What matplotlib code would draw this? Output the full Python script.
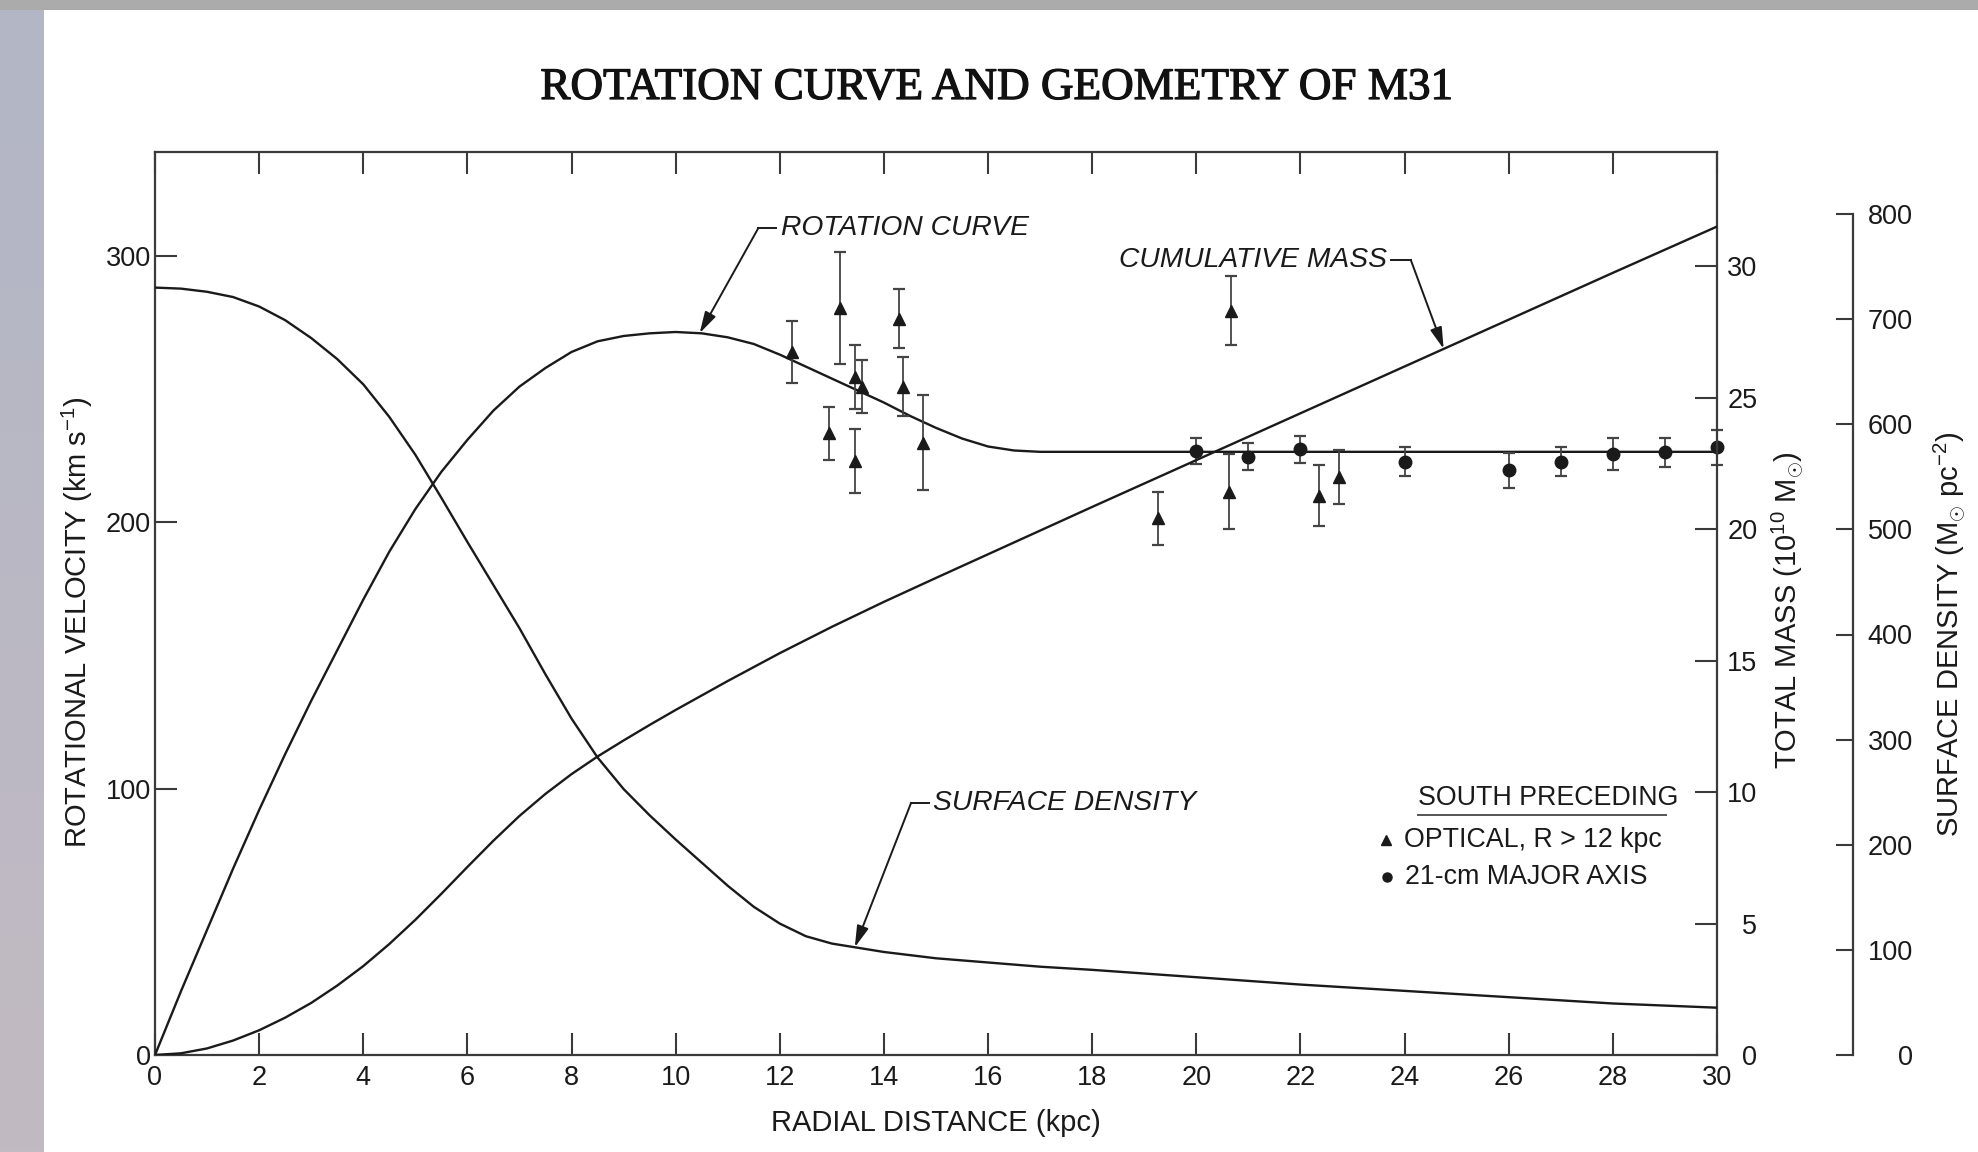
import numpy as np
import matplotlib
matplotlib.use('Agg')
import matplotlib.pyplot as plt
from matplotlib import font_manager as fm
from matplotlib.lines import Line2D
import matplotlib.patheffects as pe

# ---------------- data ----------------
rot_r = [0, 0.5, 1, 1.5, 2, 2.5, 3, 3.5, 4, 4.5, 5, 5.5, 6, 6.5, 7, 7.5, 8, 8.5, 9, 9.5,
         10, 10.5, 11, 11.5, 12, 12.5, 13, 13.5, 14, 14.5, 15, 15.5, 16, 16.5, 17, 20, 25, 30]
rot_v = [0, 24, 47, 70, 92, 113, 133, 152, 171, 189, 205, 219, 231, 242, 251, 258, 264, 268, 270, 271,
         271.5, 271, 269.5, 267, 263, 258.5, 254, 249.5, 245, 240, 235.5, 231.5, 228.5, 227, 226.5, 226.5, 226.5, 226.5]

sd_r = [0, 0.5, 1, 1.5, 2, 2.5, 3, 3.5, 4, 4.5, 5, 5.5, 6, 6.5, 7, 7.5, 8, 8.5, 9, 9.5,
        10, 10.5, 11, 11.5, 12, 12.5, 13, 13.5, 14, 15, 16, 17, 18, 20, 22, 24, 26, 28, 30]
sd_val = [730, 729, 726, 721, 712, 699, 682, 662, 638, 607, 571, 530, 488, 447, 406, 362, 320, 283, 253, 228,
          205, 183, 161, 141, 125, 113, 106, 102, 98, 92, 88, 84, 81, 74, 67, 61, 55, 49, 45]

mass_r = [0, 0.5, 1, 1.5, 2, 2.5, 3, 3.5, 4, 4.5, 5, 5.5, 6, 6.5, 7, 7.5, 8, 8.5, 9, 9.5,
          10, 11, 12, 13, 14, 15, 16, 18, 20, 22, 24, 26, 28, 30]
mass_val = [0, 0.065, 0.25, 0.55, 0.94, 1.42, 1.98, 2.64, 3.38, 4.22, 5.14, 6.13, 7.15, 8.15, 9.09, 9.93,
            10.68, 11.35, 11.96, 12.55, 13.12, 14.22, 15.28, 16.28, 17.23, 18.14, 19.04, 20.84, 22.62,
            24.4, 26.18, 27.96, 29.74, 31.5]

opt_r = [12.24, 12.94, 13.15, 13.44, 13.44, 13.58, 14.28, 14.37, 14.75, 19.26, 20.63, 20.67, 22.35, 22.74]
opt_v = [264, 233.5, 280.5, 254.5, 223, 251, 276.5, 251, 230, 201.5, 211.5, 279.5, 210, 217]
opt_err = [11.5, 10, 21, 12, 12, 10, 11, 11, 18, 10, 14, 13, 11.5, 10]

hi_r = [20.0, 21.0, 22.0, 24.0, 26.0, 27.0, 28.0, 29.0, 30.0]
hi_v = [226.8, 224.7, 227.4, 222.8, 219.5, 222.8, 225.7, 226.3, 228.2]
hi_err = [5, 5, 5, 5.5, 6.5, 5.5, 6, 5.5, 6.5]

x_ticks = list(range(0, 31, 2))
vel_ticks = [0, 100, 200, 300]
mass_ticks = [0, 5, 10, 15, 20, 25, 30]
sd_ticks = [0, 100, 200, 300, 400, 500, 600, 700, 800]

title = "ROTATION CURVE AND GEOMETRY OF M31"
xlabel = "RADIAL DISTANCE (kpc)"
vlabel = r"ROTATIONAL VELOCITY (km s$^{-1}$)"
mlabel = r"TOTAL MASS (10$^{10}$ M$_{\odot}$)"
slabel = r"SURFACE DENSITY (M$_{\odot}$ pc$^{-2}$)"

# ---------------- fonts ----------------
names = {f.name for f in fm.fontManager.ttflist}
SANS = 'Liberation Sans' if 'Liberation Sans' in names else 'DejaVu Sans'
NARROW = 'Liberation Sans Narrow' if 'Liberation Sans Narrow' in names else SANS
SERIF = 'Liberation Serif' if 'Liberation Serif' in names else 'DejaVu Serif'
narrow_ok = NARROW != SANS

plt.rcParams['font.family'] = [NARROW, 'DejaVu Sans']
plt.rcParams['mathtext.fontset'] = 'custom'
plt.rcParams['mathtext.rm'] = SANS
plt.rcParams['mathtext.it'] = SANS + ':italic'
plt.rcParams['mathtext.bf'] = SANS + ':bold'

INK = '#1a1a1a'
AXC = '#3a3a3a'
TICK_FS = 22 if narrow_ok else 19.5
LAB_FS = 21
ANN_FS = 23 if narrow_ok else 20.3
LEG_FS = 21 if narrow_ok else 19.3

# ---------------- figure ----------------
W, H = 1978, 1152
fig = plt.figure(figsize=(W / 100, H / 100), dpi=100)
fig.patch.set_facecolor('white')

def fx(px):
    return px / W

def fy(py):
    return 1 - py / H

# scanned-slide border strips
strip = fig.add_axes([0, 0, fx(44), 1])
grad = np.linspace(0, 1, 256)[:, None]
top_c = np.array([178, 182, 198]) / 255
bot_c = np.array([194, 186, 194]) / 255
img = (top_c[None, None, :] * (1 - grad[..., None]) + bot_c[None, None, :] * grad[..., None])
strip.imshow(img, aspect='auto', extent=[0, 1, 0, 1])
strip.set_axis_off()
topstrip = fig.add_axes([0, fy(10), 1, 10 / H])
topstrip.set_facecolor('#ababab')
topstrip.set_xticks([]); topstrip.set_yticks([])
for s in topstrip.spines.values():
    s.set_visible(False)

AX_L, AX_R, AX_T, AX_B = 155, 1717, 152, 1055
V_PX = 2.663      # px per km/s
M_PX = 26.3       # px per 10^10 Msun
S_PX = 1.05125    # px per Msun/pc^2
ax_h = AX_B - AX_T

ax = fig.add_axes([fx(AX_L), fy(AX_B), (AX_R - AX_L) / W, ax_h / H])
ax.set_xlim(0, 30)
ax.set_ylim(0, ax_h / V_PX)
ax.patch.set_alpha(0)

ax2 = ax.twinx()
ax2.set_ylim(0, ax_h / M_PX)
ax3 = ax.twinx()
ax3.set_ylim(0, ax_h / S_PX)
ax3.spines['right'].set_position(('axes', (1853 - AX_L) / (AX_R - AX_L)))
ax3.spines['right'].set_bounds(0, 800)

for a in (ax, ax2, ax3):
    for s in a.spines.values():
        s.set_color(AXC)
        s.set_linewidth(1.6)
ax.spines['right'].set_visible(False)
for k in ('left', 'top', 'bottom'):
    ax2.spines[k].set_visible(False)
    ax3.spines[k].set_visible(False)

# ticks
ax.set_xticks(x_ticks)
ax.set_xticklabels([str(t) for t in x_ticks])
ax.tick_params(axis='x', which='major', direction='in', length=16, width=1.5, color=AXC,
               top=True, labeltop=False, labelsize=TICK_FS, labelcolor=INK, pad=7)
ax.set_yticks(vel_ticks)
ax.set_yticklabels([str(t) for t in vel_ticks])
ax.tick_params(axis='y', direction='in', length=16, width=1.5, color=AXC, right=False,
               labelsize=TICK_FS, labelcolor=INK, pad=3)
ax2.set_yticks(mass_ticks)
ax2.set_yticklabels([str(t) for t in mass_ticks], ha='right')
ax2.tick_params(axis='y', direction='in', length=16, width=1.5, color=AXC,
                labelsize=TICK_FS, labelcolor=INK, pad=29)
ax3.set_yticks(sd_ticks)
ax3.set_yticklabels([str(t) for t in sd_ticks], ha='right')
ax3.tick_params(axis='y', direction='in', length=12.5, width=1.5, color=AXC,
                labelsize=TICK_FS, labelcolor=INK, pad=43)

# curves
ax.plot(rot_r, rot_v, color=INK, lw=1.7, zorder=3)
ax2.plot(mass_r, mass_val, color=INK, lw=1.7, zorder=3)
ax3.plot(sd_r, sd_val, color=INK, lw=1.7, zorder=3)

# observations
ax.errorbar(opt_r, opt_v, yerr=opt_err, fmt='^', ms=8, mfc=INK, mec=INK, ecolor='#444444',
            elinewidth=1.3, capsize=4, capthick=1.6, zorder=5, clip_on=False)
ax.errorbar(hi_r, hi_v, yerr=hi_err, fmt='o', ms=9, mfc=INK, mec=INK, ecolor='#444444',
            elinewidth=1.3, capsize=4, capthick=1.6, zorder=5, clip_on=False)

# annotations with leader lines
arrow_kw = dict(arrowstyle='-|>,head_length=0.65,head_width=0.18', color=INK, lw=1.4,
                shrinkA=0, shrinkB=0, mutation_scale=20)

def leader(target_ax, tip_r, curve_r, curve_y, elbow, seg_end, text, text_xy, ha):
    tip = (tip_r, float(np.interp(tip_r, curve_r, curve_y)))
    target_ax.annotate('', xy=tip, xycoords='data', xytext=elbow, textcoords=ax.transData,
                       arrowprops=arrow_kw, zorder=6)
    ax.plot([elbow[0], seg_end[0]], [elbow[1], seg_end[1]], color=INK, lw=1.4, zorder=6)
    ax.text(text_xy[0], text_xy[1], text, ha=ha, va='center', fontsize=ANN_FS,
            style='italic', color=INK, zorder=6)

leader(ax, 10.46, rot_r, rot_v, (11.59, 310.6), (11.93, 310.6), 'ROTATION CURVE', (12.02, 310.6), 'left')
leader(ax2, 24.75, mass_r, mass_val, (24.12, 298.5), (23.74, 298.5), 'CUMULATIVE MASS', (23.66, 298.5), 'right')
leader(ax3, 13.44, sd_r, sd_val, (14.52, 94.6), (14.86, 94.6), 'SURFACE DENSITY', (14.95, 94.6), 'left')

# legend block
fig.text(fx(1418), fy(798), 'SOUTH PRECEDING', ha='left', va='center', fontsize=LEG_FS, color=INK)
fig.add_artist(Line2D([fx(1418), fx(1666)], [fy(815), fy(815)], color='#555555', lw=1.4))
fig.add_artist(Line2D([fx(1386)], [fy(840)], marker='^', ms=6.5, color=INK, ls='none'))
fig.text(fx(1404), fy(840), 'OPTICAL, R > 12 kpc', ha='left', va='center', fontsize=LEG_FS, color=INK)
fig.add_artist(Line2D([fx(1387)], [fy(877)], marker='o', ms=6.5, color=INK, ls='none'))
fig.text(fx(1405), fy(877), '21-cm MAJOR AXIS', ha='left', va='center', fontsize=LEG_FS, color=INK)

# title and axis labels
fig.text(fx(997), fy(88), title, ha='center', va='center', fontsize=32.5,
         family=[SERIF, 'DejaVu Serif'], color='#111111',
         path_effects=[pe.withStroke(linewidth=0.9, foreground='#111111')])
fig.text(fx(936), fy(1123), xlabel, ha='center', va='center', fontsize=LAB_FS,
         family=[SANS, 'DejaVu Sans'], color=INK)
fig.text(fx(77), fy(622), vlabel, ha='center', va='center', rotation=90, fontsize=LAB_FS,
         family=[SANS, 'DejaVu Sans'], color=INK)
fig.text(fx(1788), fy(610), mlabel, ha='center', va='center', rotation=90, fontsize=LAB_FS,
         family=[SANS, 'DejaVu Sans'], color=INK)
fig.text(fx(1950), fy(634), slabel, ha='center', va='center', rotation=90, fontsize=LAB_FS,
         family=[SANS, 'DejaVu Sans'], color=INK)

fig.savefig('out.png', dpi=100)
